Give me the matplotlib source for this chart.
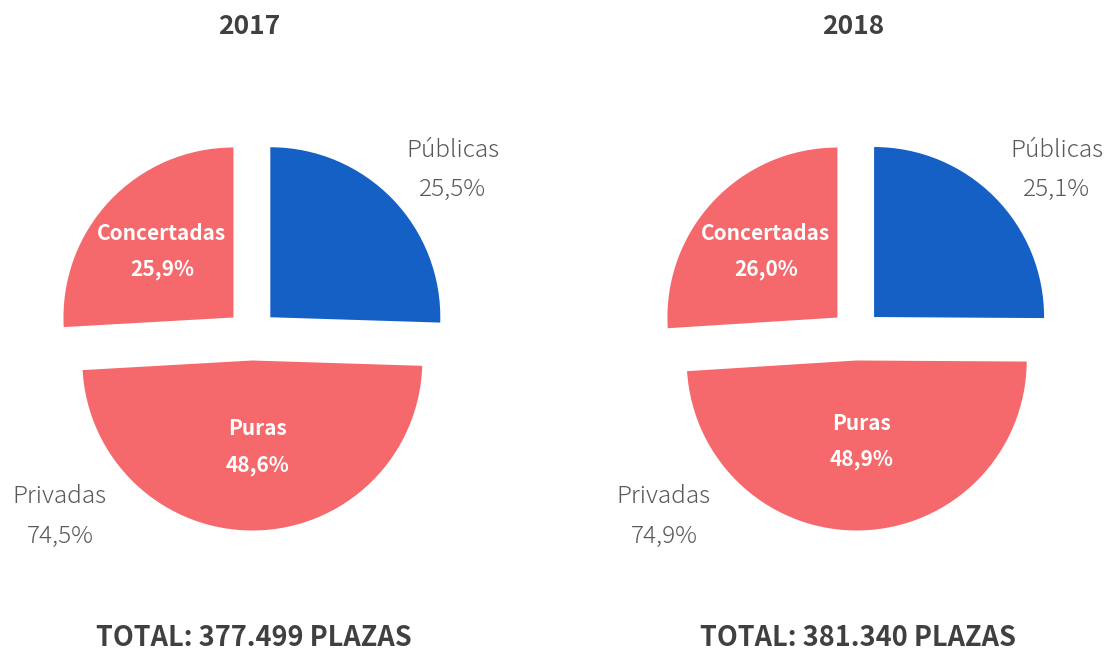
import matplotlib
matplotlib.use('Agg')
import matplotlib.pyplot as plt

plt.rcParams['font.family'] = ['Noto Sans CJK JP', 'DejaVu Sans']

YEARS = ['2017', '2018']
TOTALS = ['377.499', '381.340']
SLICE_NAMES = ['Públicas', 'Puras', 'Concertadas']
PUBLICAS = [25.5, 25.1]
PURAS = [48.6, 48.9]
CONCERTADAS = [25.9, 26.0]
PRIVADAS = [74.5, 74.9]

BLUE = '#1560C5'
SALMON = '#F5686C'
DARK = '#404040'
GREY = '#595959'

W, H = 1108, 653
RADIUS_PX = 170
LIM = 1.5
CENTERS_PX = [(252, 335), (856, 335)]
PURAS_Y = [-0.55, -0.52]  # label height inside the lower slice, per pie


def fmt(v):
    return f'{v:.1f}'.replace('.', ',') + '%'


fig = plt.figure(figsize=(W / 100, H / 100), dpi=100)

for i, year in enumerate(YEARS):
    cx, cy = CENTERS_PX[i]
    side = 2 * LIM * RADIUS_PX
    ax = fig.add_axes([(cx - side / 2) / W, (H - cy - side / 2) / H, side / W, side / H])
    values = [PUBLICAS[i], PURAS[i], CONCERTADAS[i]]
    ax.pie(values, colors=[BLUE, SALMON, SALMON], startangle=90, counterclock=False,
           explode=[0.15, 0.15, 0.15], radius=1)
    ax.set_xlim(-LIM, LIM)
    ax.set_ylim(-LIM, LIM)
    ax.set_aspect('equal')
    ax.axis('off')

    # outer labels
    outer = dict(ha='center', va='center', fontsize=17.5, color=GREY, fontweight='light')
    ax.text(1.18, 1.085, 'Públicas', **outer)
    ax.text(1.18, 0.855, fmt(PUBLICAS[i]), **outer)
    ax.text(-1.13, -0.95, 'Privadas', **outer)
    ax.text(-1.13, -1.185, fmt(PRIVADAS[i]), **outer)

    # inner labels
    inner = dict(ha='center', va='center', fontsize=15, color='white', fontweight='bold')
    ax.text(-0.53, 0.595, 'Concertadas', **inner)
    ax.text(-0.53, 0.385, fmt(CONCERTADAS[i]), **inner)
    ax.text(0.03, PURAS_Y[i], 'Puras', **inner)
    ax.text(0.03, PURAS_Y[i] - 0.215, fmt(PURAS[i]), **inner)

    fig.text((cx - 3) / W, 1 - 27 / H, year, ha='center', va='center', fontsize=19,
             color=DARK, fontweight='bold')
    fig.text((cx + 2) / W, 1 - 638 / H, f'TOTAL: {TOTALS[i]} PLAZAS', ha='center',
             va='center', fontsize=19.5, color=DARK, fontweight='bold')

fig.savefig('out.png', dpi=100)
